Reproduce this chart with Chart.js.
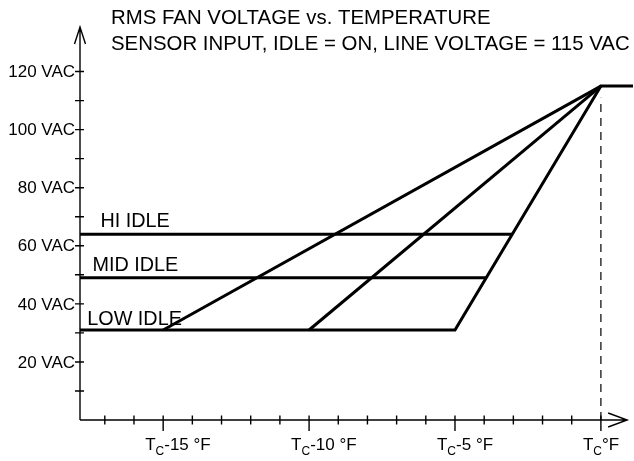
<!DOCTYPE html>
<html lang="en">
<head>
  <meta charset="UTF-8">
  <title>RMS Fan Voltage vs. Temperature</title>
  <script src="https://cdn.jsdelivr.net/npm/chart.js"></script>
  <style>
    html, body {
      margin: 0;
      padding: 0;
      background: #fff;
    }
    #wrap {
      width: 634px;
      height: 461px;
      position: relative;
    }
  </style>
</head>
<body>
  <div id="wrap">
    <canvas id="fanChart"></canvas>
  </div>

  <script>
    // temperatures are offsets from Tc in °F, voltages in VAC
    const titleLines = ['RMS FAN VOLTAGE vs. TEMPERATURE', 'SENSOR INPUT, IDLE = ON, LINE VOLTAGE = 115 VAC'];
    const tempMin = -17.85;
    const tempMax = 1.1;
    const voltMax = 135;

    const idleNames = ['HI IDLE', 'MID IDLE', 'LOW IDLE'];
    const idleVolts = [64, 49, 31];
    const idleEndTemps = [-3.04, -3.93, -5];
    const idleLabelTemps = [-17.15, -17.42, -17.6];
    const idleLabelVolts = [66.5, 51.3, 32.8];

    const rampStartTemps = [-15, -10];
    const fullTemp = 0;
    const fullVolts = 115;
    const fullEndTemp = 1.1;

    const xTickValues = [-15, -10, -5, 0];
    const xTickLabels = ['-15 °F', '-10 °F', '-5 °F', '°F'];
    const yTickValues = [20, 40, 60, 80, 100, 120];
    const yTickLabels = ['20 VAC', '40 VAC', '60 VAC', '80 VAC', '100 VAC', '120 VAC'];

    const FONT = '"Liberation Sans", Arial, sans-serif';

    function line(points, extra) {
      return Object.assign({
        data: points,
        showLine: true,
        borderColor: '#000',
        borderWidth: 3,
        pointRadius: 0,
        fill: false,
        tension: 0
      }, extra || {});
    }

    const datasets = [];
    // hi and mid idle levels stop on the low idle ramp
    for (let i = 0; i < 2; i++) {
      datasets.push(line([{ x: tempMin, y: idleVolts[i] }, { x: idleEndTemps[i], y: idleVolts[i] }]));
    }
    // low idle level, ramp to full and flat top
    datasets.push(line([
      { x: tempMin, y: idleVolts[2] },
      { x: idleEndTemps[2], y: idleVolts[2] },
      { x: fullTemp, y: fullVolts },
      { x: fullEndTemp, y: fullVolts }
    ], { borderJoinStyle: 'miter' }));
    rampStartTemps.forEach(t => {
      datasets.push(line([{ x: t, y: idleVolts[2] }, { x: fullTemp, y: fullVolts }]));
    });
    // dashed marker at Tc
    datasets.push(line([{ x: fullTemp, y: 0 }, { x: fullTemp, y: fullVolts - 4 }], {
      borderWidth: 1.2,
      borderDash: [8, 6]
    }));

    const axesPlugin = {
      id: 'axes',
      beforeDatasetsDraw(chart) {
        const c = chart.ctx;
        const xs = chart.scales.x, ys = chart.scales.y;
        const x0 = xs.getPixelForValue(tempMin);
        const y0 = ys.getPixelForValue(0);
        const yTop = ys.getPixelForValue(voltMax) - 1;
        const xEnd = xs.getPixelForValue(0.9);
        c.save();
        c.strokeStyle = '#000';
        c.lineWidth = 1.4;
        c.beginPath();
        c.moveTo(x0, y0); c.lineTo(x0, yTop);
        c.moveTo(x0, y0); c.lineTo(xEnd, y0);
        // arrow heads
        c.moveTo(x0 - 5.5, yTop + 17); c.lineTo(x0, yTop); c.lineTo(x0 + 5.5, yTop + 17);
        c.moveTo(xEnd - 19, y0 - 7); c.lineTo(xEnd, y0); c.lineTo(xEnd - 19, y0 + 7);
        c.stroke();

        c.beginPath();
        for (let t = -17; t <= 0; t++) {
          const px = xs.getPixelForValue(t);
          const major = t % 5 === 0;
          c.moveTo(px, y0 - 4.5);
          c.lineTo(px, y0 + (major ? 11 : 4.5));
        }
        for (let v = 10; v <= 120; v += 10) {
          const py = ys.getPixelForValue(v);
          c.moveTo(x0 - 5, py);
          c.lineTo(x0 + 4, py);
        }
        c.stroke();
        c.restore();
      },
      afterDraw(chart) {
        const c = chart.ctx;
        const xs = chart.scales.x, ys = chart.scales.y;
        const x0 = xs.getPixelForValue(tempMin);
        c.save();
        c.fillStyle = '#000';
        c.textBaseline = 'alphabetic';

        c.font = '20.4px ' + FONT;
        c.textAlign = 'left';
        c.fillText(titleLines[0], 111, 24);
        c.fillText(titleLines[1], 111, 50);

        c.font = '17px ' + FONT;
        c.textAlign = 'right';
        c.textBaseline = 'middle';
        yTickValues.forEach((v, i) => {
          c.fillText(yTickLabels[i], x0 - 5, ys.getPixelForValue(v) + 1);
        });

        c.textBaseline = 'alphabetic';
        c.textAlign = 'left';
        xTickValues.forEach((t, i) => {
          let px = xs.getPixelForValue(t) - 18;
          const base = 450;
          c.font = '17px ' + FONT;
          c.fillText('T', px, base);
          px += c.measureText('T').width;
          c.font = '12px ' + FONT;
          c.fillText('C', px, base + 5);
          px += c.measureText('C').width;
          c.font = '17px ' + FONT;
          c.fillText(xTickLabels[i], px, base);
        });

        c.font = '19.8px ' + FONT;
        idleNames.forEach((n, i) => {
          c.fillText(n, xs.getPixelForValue(idleLabelTemps[i]), ys.getPixelForValue(idleLabelVolts[i]));
        });
        c.restore();
      }
    };

    const chart = new Chart(document.getElementById('fanChart'), {
      type: 'scatter',
      data: { datasets: datasets },
      options: {
        responsive: true,
        maintainAspectRatio: false,
        animation: false,
        layout: { padding: { left: 80, top: 28, right: 1, bottom: 41 } },
        plugins: {
          legend: { display: false },
          tooltip: { enabled: false }
        },
        scales: {
          x: { type: 'linear', min: tempMin, max: tempMax, display: false },
          y: { type: 'linear', min: 0, max: voltMax, display: false }
        }
      },
      plugins: [axesPlugin]
    });
  </script>
</body>
</html>
